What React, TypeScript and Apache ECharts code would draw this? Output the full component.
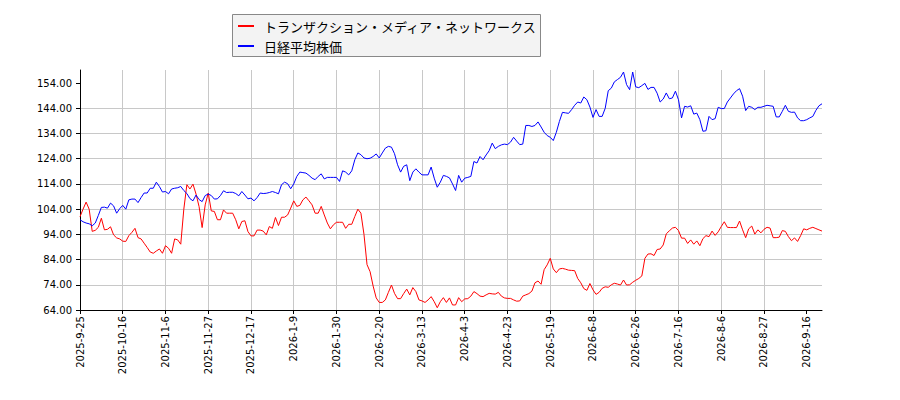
import React, { useEffect, useRef } from 'react';
import * as echarts from 'echarts';

// 目盛りラベル（14営業日ごと）
const tickLabels = [
  '2025-9-25', '2025-10-16', '2025-11-6', '2025-11-27', '2025-12-17', '2026-1-9',
  '2026-1-30', '2026-2-20', '2026-3-13', '2026-4-3', '2026-4-23', '2026-5-19',
  '2026-6-8', '2026-6-26', '2026-7-16', '2026-8-6', '2026-8-27', '2026-9-16',
];
const TICK_STEP = 14;

const seriesNames = ['トランザクション・メディア・ネットワークス', '日経平均株価'];

// トランザクション・メディア・ネットワークス
const mediaValues = [
  101, 104, 106.8, 104, 95.2, 95.6, 96.8, 100.4, 95.8, 96, 97, 93.8, 92.6, 92.2,
  91.3, 91.2, 93.5, 94.8, 96.4, 92.7, 92.2, 90.5, 88.8, 87, 86.5, 87.4, 88.2, 86.5,
  89.5, 88.5, 86.5, 92.2, 91.8, 90.1, 104, 113.7, 112, 113.9, 110, 105, 96.7, 105.7,
  110.4, 103.3, 103.1, 99.8, 99.8, 103.7, 102.4, 102.4, 102.4, 99.8, 96.2, 99.1, 99.4, 95.1,
  93.4, 93.4, 95.7, 95.7, 95.3, 93.8, 97.1, 96.4, 100.7, 97.5, 100.8, 100.8, 101.7, 104.4,
  107.3, 105.1, 105.5, 107.7, 108.8, 107.3, 105.7, 102.4, 102.4, 105.1, 101.7, 98.5, 96.2, 97.8,
  98.8, 98.8, 98.8, 96.4, 98, 98, 101.1, 104, 102.4, 94, 82, 79.2, 73.5, 68.8,
  67, 67, 68, 71, 73.9, 70.6, 68.5, 68.5, 70.5, 72.3, 70, 72.9, 71.3, 68,
  67.6, 67, 68, 69.3, 67.3, 64.9, 67.3, 68.9, 67, 68.8, 66, 66, 68.9, 67.3,
  68.4, 68.5, 69.5, 71.3, 70.5, 69.5, 69.3, 70, 70.6, 70.4, 70.3, 71, 69.5, 68.8,
  68.6, 68.6, 68, 67.5, 67.6, 69.5, 70, 70.5, 71.5, 74.8, 75.5, 74.2, 80, 81.9,
  84.5, 80.3, 78.8, 80.3, 80.5, 80.2, 79.8, 79.7, 79.6, 76.5, 74.8, 72.5, 71.8, 74.5,
  72, 70.2, 71, 72.6, 73.2, 73, 74, 74.6, 74.3, 73.9, 75.9, 73.9, 74, 75,
  75.8, 76.5, 77.5, 84.5, 86.2, 86.3, 85.6, 88, 88.2, 89.8, 94.2, 95.4, 96.5, 96.8,
  95.5, 92.5, 92.5, 90.4, 91.8, 90.1, 91.4, 89.5, 92.3, 93.5, 93.1, 95.3, 93.6, 95,
  97.1, 99, 96.8, 96.7, 96.7, 96.7, 99.3, 95.8, 92.7, 96.2, 97.3, 94.1, 95.8, 94.6,
  96, 96.8, 96.5, 92.7, 92.7, 92.9, 95.5, 95.2, 93.1, 91.5, 92.6, 91.2, 93.5, 96.2,
  95.8, 96.4, 96.8, 96.3, 95.8, 95.3,
];

// 日経平均株価
const nikkeiValues = [
  99.8, 99, 98.5, 98.2, 97.4, 98.5, 101.5, 104.7, 104.8, 104.4, 106.4, 105.3, 102.4, 104.2,
  105.5, 104, 107.7, 108, 108, 106.6, 108.6, 110.4, 110.4, 112.3, 112.3, 114.7, 113, 110.8,
  111, 110.1, 112, 112.3, 112.5, 113, 111.4, 110.2, 108.2, 107.3, 109.6, 107.8, 107, 109.4,
  110, 109.4, 108, 108.1, 109.4, 111.3, 110.6, 110.7, 110.7, 110.2, 109.3, 111, 109.6, 108.1,
  108.4, 107.3, 108.6, 110.4, 110.2, 110.3, 110.6, 111, 110.6, 110.1, 113.7, 114.7, 114.1, 112.1,
  114, 117, 118.7, 118.5, 118.3, 117.4, 116.3, 115.7, 117, 118, 116, 116.6, 116.6, 116.6,
  116.6, 115, 119.2, 118.7, 117.6, 119.2, 123.6, 126.3, 125.6, 124.3, 124, 124.2, 124.9, 125.9,
  124.3, 126.3, 128.2, 128.9, 128.6, 126, 121.6, 118.7, 121, 121.6, 115.3, 118.7, 120, 118.7,
  117.6, 117.6, 117.6, 120.7, 116.3, 112.7, 114.7, 117.4, 117, 116.4, 114, 111.4, 117.4, 114.7,
  116.3, 116.6, 117, 122.9, 122.3, 124.9, 123.6, 125.5, 127.2, 130.2, 128, 128.9, 129.5, 129.8,
  129.6, 130.6, 132.5, 131, 129.6, 129.8, 137.2, 137.2, 136.8, 137.2, 138.6, 136.6, 134.5, 133.2,
  132.5, 131.2, 134.5, 138.8, 142.4, 142.2, 142, 143.5, 145.2, 146.5, 146.1, 148.5, 147.4, 144.5,
  140.4, 143.5, 140.8, 140.8, 144, 151, 152, 154.5, 155.4, 156.3, 158.4, 153.4, 151.4, 158.4,
  152.5, 152.2, 153, 153.9, 151.5, 152.3, 152.3, 150, 146.5, 147.7, 150.1, 147.8, 148.1, 150.8,
  147.4, 140.2, 144.8, 144.5, 145, 141.7, 142.1, 139.5, 134.9, 135.1, 140.8, 139.5, 139.9, 144.4,
  143.9, 143.9, 146.5, 148.1, 149.7, 151, 151.8, 148.8, 143.1, 144.8, 144.4, 143.5, 144.4, 144.4,
  144.8, 145.2, 145, 144.8, 140.6, 140.6, 142.8, 145.2, 142.8, 142.4, 142.5, 140.2, 139.1, 139.1,
  139.5, 140.2, 140.8, 143.2, 145, 145.8,
];

const yTicks = [64, 74, 84, 94, 104, 114, 124, 134, 144, 154];
const Y_MIN = 64;
const Y_MAX = 159.2;

const labelFont = 'DejaVu Sans';
const cjkFont = 'Noto Sans CJK JP';

const App: React.FC = () => {
  const chartRef = useRef<HTMLDivElement>(null);

  useEffect(() => {
    if (!chartRef.current) return;
    const chart = echarts.init(chartRef.current, undefined, { renderer: 'svg' });

    const lastIndex = mediaValues.length - 1;
    const xTicks = tickLabels.map((_, i) => i * TICK_STEP);

    chart.setOption({
      animation: false,
      grid: { left: 80, right: 78, top: 70, bottom: 90 },
      xAxis: {
        type: 'value',
        min: 0,
        max: lastIndex,
        interval: TICK_STEP,
        axisLine: { show: true, onZero: false, lineStyle: { color: '#000', width: 1 } },
        axisTick: { show: true, length: 4, customValues: xTicks, lineStyle: { color: '#000' } },
        axisLabel: {
          customValues: xTicks,
          rotate: 90,
          margin: 6,
          fontSize: 10,
          fontFamily: labelFont,
          color: '#000',
          formatter: (v: number) => tickLabels[Math.round(v / TICK_STEP)] ?? '',
        },
        splitLine: { show: true, showMaxLine: false, lineStyle: { color: '#c8c8c8', width: 1 } },
      },
      yAxis: {
        type: 'value',
        min: Y_MIN,
        max: Y_MAX,
        interval: 10,
        axisLine: { show: true, lineStyle: { color: '#000', width: 1 } },
        axisTick: { show: true, length: 4, customValues: yTicks, lineStyle: { color: '#000' } },
        axisLabel: {
          customValues: yTicks,
          margin: 8,
          fontSize: 10,
          fontFamily: labelFont,
          color: '#000',
          formatter: (v: number) => v.toFixed(2),
        },
        splitLine: { show: true, showMaxLine: false, lineStyle: { color: '#c8c8c8', width: 1 } },
      },
      series: [
        {
          name: seriesNames[0],
          type: 'line',
          data: mediaValues.map((v, i) => [i, v]),
          showSymbol: false,
          symbol: 'none',
          lineStyle: { color: '#ff0000', width: 1 },
          itemStyle: { color: '#ff0000' },
          z: 3,
        },
        {
          name: seriesNames[1],
          type: 'line',
          data: nikkeiValues.map((v, i) => [i, v]),
          showSymbol: false,
          symbol: 'none',
          lineStyle: { color: '#0000ff', width: 1 },
          itemStyle: { color: '#0000ff' },
          z: 3,
        },
      ],
      // 凡例は枠ごと描く
      graphic: [
        {
          type: 'rect',
          shape: { x: 232.5, y: 14.5, width: 308, height: 42 },
          style: { fill: '#f3f3f3', stroke: '#888888', lineWidth: 1 },
        },
        {
          type: 'line',
          shape: { x1: 238, y1: 26, x2: 254, y2: 26 },
          style: { stroke: '#ff0000', lineWidth: 2 },
        },
        {
          type: 'text',
          x: 264,
          y: 26,
          style: {
            text: seriesNames[0],
            fontSize: 13,
            fontFamily: cjkFont,
            fill: '#000',
            verticalAlign: 'middle',
          },
        },
        {
          type: 'line',
          shape: { x1: 238, y1: 46, x2: 254, y2: 46 },
          style: { stroke: '#0000ff', lineWidth: 2 },
        },
        {
          type: 'text',
          x: 264,
          y: 46,
          style: {
            text: seriesNames[1],
            fontSize: 13,
            fontFamily: cjkFont,
            fill: '#000',
            verticalAlign: 'middle',
          },
        },
      ],
    });

    return () => {
      chart.dispose();
    };
  }, []);

  return (
    <div
      ref={chartRef}
      style={{ position: 'absolute', left: 0, top: 0, width: '900px', height: '400px', background: '#fff' }}
    ></div>
  );
};

export default App;
